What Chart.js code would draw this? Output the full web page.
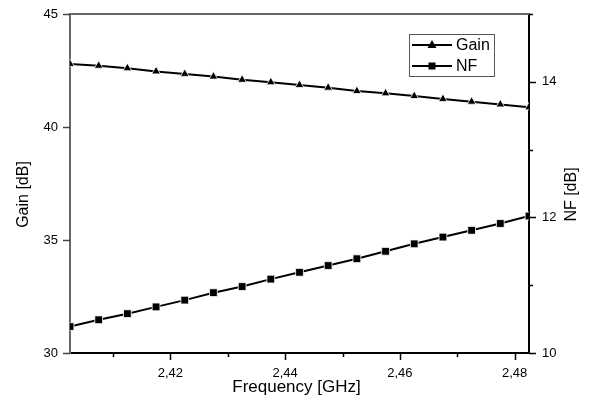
<!DOCTYPE html>
<html>
<head>
<meta charset="utf-8">
<script src="https://cdn.jsdelivr.net/npm/chart.js@4.4.1/dist/chart.umd.min.js"></script>
<style>
  html, body { margin: 0; padding: 0; background: #fff; }
  #wrap { width: 591px; height: 410px; }
</style>
</head>
<body>
<div id="wrap"><canvas id="chart" width="591" height="410"></canvas></div>
<script>
// Data
const freqs = [2.4025, 2.4075, 2.4125, 2.4175, 2.4225, 2.4275, 2.4325, 2.4375, 2.4425,
               2.4475, 2.4525, 2.4575, 2.4625, 2.4675, 2.4725, 2.4775, 2.4825];
const gain = [42.79, 42.71, 42.60, 42.46, 42.35, 42.23, 42.09, 41.98, 41.86,
              41.74, 41.59, 41.49, 41.37, 41.24, 41.12, 41.00, 40.87];
const nf = [10.39, 10.49, 10.58, 10.68, 10.78, 10.89, 10.98, 11.09, 11.19,
            11.29, 11.39, 11.50, 11.61, 11.71, 11.81, 11.91, 12.02];

// Tick values
const xTicks = [2.42, 2.44, 2.46, 2.48];
const xMinor = [2.41, 2.43, 2.45, 2.47];
const gainTicks = [30, 35, 40, 45];
const nfTicks = [10, 12, 14];
const nfMinor = [11, 13, 15];

const FONT = "'Liberation Sans', Arial, sans-serif";

// Origin-style frame: tick marks, top line, titles and legend box
const framePlugin = {
  id: 'frame',
  afterDraw(chart) {
    const ctx = chart.ctx;
    const a = chart.chartArea;
    const sx = chart.scales.x, sy = chart.scales.y, sy2 = chart.scales.y2;
    ctx.save();
    ctx.lineWidth = 2;
    // top border
    ctx.strokeStyle = '#666';
    ctx.beginPath();
    ctx.moveTo(a.left - 1, a.top);
    ctx.lineTo(a.right + 1, a.top);
    ctx.stroke();
    ctx.lineWidth = 1.5;
    // x ticks (outward)
    ctx.strokeStyle = '#000';
    const tickX = (vals, len) => vals.forEach(v => {
      const px = Math.round(sx.getPixelForValue(v)) + 0.5;
      ctx.beginPath(); ctx.moveTo(px, a.bottom); ctx.lineTo(px, a.bottom + len); ctx.stroke();
    });
    tickX(xTicks, 7);
    tickX(xMinor, 4);
    // left ticks
    ctx.strokeStyle = '#444';
    gainTicks.forEach(v => {
      const py = Math.round(sy.getPixelForValue(v)) + 0.5;
      ctx.beginPath(); ctx.moveTo(a.left, py); ctx.lineTo(a.left - 7, py); ctx.stroke();
    });
    // right ticks
    ctx.strokeStyle = '#000';
    const tickR = (vals, len) => vals.forEach(v => {
      const py = Math.round(sy2.getPixelForValue(v)) + 0.5;
      ctx.beginPath(); ctx.moveTo(a.right, py); ctx.lineTo(a.right + len, py); ctx.stroke();
    });
    tickR(nfTicks, 7);
    tickR(nfMinor, 4);

    // axis titles
    ctx.fillStyle = '#000';
    ctx.textAlign = 'center';
    ctx.textBaseline = 'middle';
    ctx.font = '17px ' + FONT;
    ctx.fillText('Frequency [GHz]', (a.left + a.right) / 2 - 3, 387);
    ctx.font = '16px ' + FONT;
    const midY = (a.top + a.bottom) / 2 + 11;
    ctx.save();
    ctx.translate(24, midY);
    ctx.rotate(-Math.PI / 2);
    ctx.fillText('Gain [dB]', 0, 0);
    ctx.restore();
    ctx.save();
    ctx.translate(572, midY);
    ctx.rotate(-Math.PI / 2);
    ctx.fillText('NF [dB]', 0, 0);
    ctx.restore();

    // legend
    const lx = a.right - 120, ly = a.top + 20;
    ctx.strokeStyle = '#555';
    ctx.lineWidth = 1;
    ctx.strokeRect(lx + 0.5, ly + 0.5, 85, 42);
    chart.data.datasets.forEach((ds, i) => {
      const y = ly + 11 + i * 21;
      ctx.strokeStyle = '#000';
      ctx.lineWidth = 2;
      ctx.beginPath(); ctx.moveTo(lx + 3, y); ctx.lineTo(lx + 43, y); ctx.stroke();
      ctx.fillStyle = '#000';
      if (ds.pointStyle === 'triangle') {
        ctx.beginPath();
        ctx.moveTo(lx + 23, y - 5); ctx.lineTo(lx + 27.5, y + 3); ctx.lineTo(lx + 18.5, y + 3);
        ctx.closePath(); ctx.fill();
      } else {
        ctx.fillRect(lx + 19.5, y - 3.5, 7, 7);
      }
      ctx.textAlign = 'left';
      ctx.font = '16px ' + FONT;
      ctx.fillText(ds.label, lx + 47, y + 1);
    });
    ctx.restore();
  }
};

// keep label overhang from pushing the plot area around
const fixY = w => s => { s.width = w; s.paddingTop = 0; s.paddingBottom = 0; };

new Chart(document.getElementById('chart'), {
  type: 'line',
  data: {
    datasets: [
      {
        label: 'Gain',
        data: freqs.map((f, i) => ({ x: f, y: gain[i] })),
        yAxisID: 'y',
        borderColor: '#000',
        borderWidth: 2,
        backgroundColor: '#000',
        pointStyle: 'triangle',
        pointRadius: 5,
        pointBorderColor: '#fff',
        pointBorderWidth: 0.8,
        clip: 0
      },
      {
        label: 'NF',
        data: freqs.map((f, i) => ({ x: f, y: nf[i] })),
        yAxisID: 'y2',
        borderColor: '#000',
        borderWidth: 2,
        backgroundColor: '#000',
        pointStyle: 'rect',
        pointRadius: 5.5,
        pointBorderColor: '#fff',
        pointBorderWidth: 0.8,
        clip: 0
      }
    ]
  },
  options: {
    responsive: false,
    animation: false,
    layout: { padding: { top: 14, left: 0, right: 0, bottom: 0 } },
    plugins: { legend: { display: false }, tooltip: { enabled: false } },
    scales: {
      x: {
        type: 'linear',
        min: 2.4025,
        max: 2.4825,
        afterBuildTicks: s => { s.ticks = xTicks.map(v => ({ value: v })); },
        afterFit: s => { s.height = 57; s.paddingLeft = 0; s.paddingRight = 0; },
        grid: { display: false, drawTicks: false, tickLength: 0 },
        border: { display: true, color: '#000', width: 2 },
        ticks: {
          color: '#000',
          font: { family: FONT, size: 13 },
          padding: 13,
          maxRotation: 0,
          callback: v => v.toFixed(2).replace('.', ',')
        }
      },
      y: {
        position: 'left',
        min: 30,
        max: 45,
        afterBuildTicks: s => { s.ticks = gainTicks.map(v => ({ value: v })); },
        afterFit: fixY(70),
        grid: { display: false, drawTicks: false, tickLength: 0 },
        border: { display: true, color: '#666', width: 2 },
        ticks: {
          color: '#000',
          font: { family: FONT, size: 13 },
          padding: 12
        }
      },
      y2: {
        position: 'right',
        min: 10,
        max: 15,
        afterBuildTicks: s => { s.ticks = nfTicks.map(v => ({ value: v })); },
        afterFit: fixY(62),
        grid: { display: false, drawTicks: false, tickLength: 0 },
        border: { display: true, color: '#000', width: 2 },
        ticks: {
          color: '#000',
          font: { family: FONT, size: 13 },
          padding: 13
        }
      }
    }
  },
  plugins: [framePlugin]
});
</script>
</body>
</html>
